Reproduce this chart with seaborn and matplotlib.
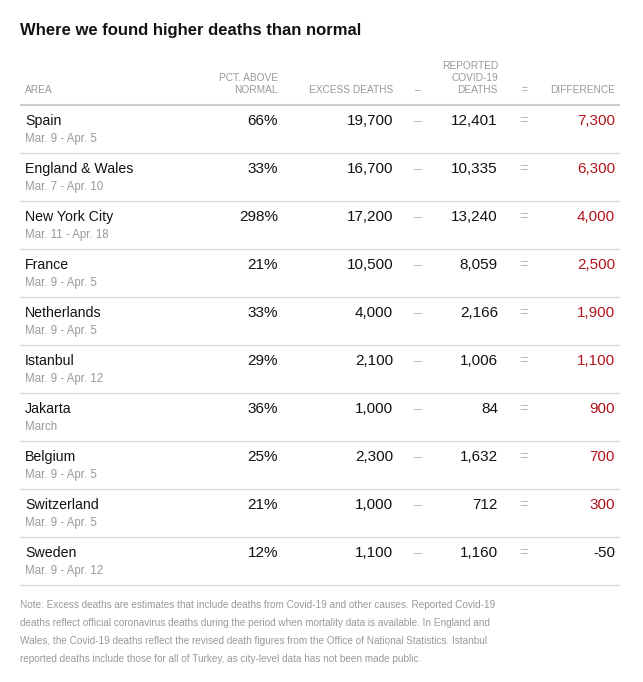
import matplotlib
matplotlib.use("Agg")
import matplotlib.pyplot as plt
import seaborn as sns

title = "Where we found higher deaths than normal"
areas = ["Spain", "England & Wales", "New York City", "France", "Netherlands",
         "Istanbul", "Jakarta", "Belgium", "Switzerland", "Sweden"]
periods = ["Mar. 9 - Apr. 5", "Mar. 7 - Apr. 10", "Mar. 11 - Apr. 18", "Mar. 9 - Apr. 5",
           "Mar. 9 - Apr. 5", "Mar. 9 - Apr. 12", "March", "Mar. 9 - Apr. 5",
           "Mar. 9 - Apr. 5", "Mar. 9 - Apr. 12"]
pct_above = [66, 33, 298, 21, 33, 29, 36, 25, 21, 12]
excess_deaths = [19700, 16700, 17200, 10500, 4000, 2100, 1000, 2300, 1000, 1100]
reported_deaths = [12401, 10335, 13240, 8059, 2166, 1006, 84, 1632, 712, 1160]
difference = [7300, 6300, 4000, 2500, 1900, 1100, 900, 700, 300, -50]
note_lines = [
    "Note: Excess deaths are estimates that include deaths from Covid-19 and other causes. Reported Covid-19",
    "deaths reflect official coronavirus deaths during the period when mortality data is available. In England and",
    "Wales, the Covid-19 deaths reflect the revised death figures from the Office of National Statistics. Istanbul",
    "reported deaths include those for all of Turkey, as city-level data has not been made public.",
]

sns.set_theme(style="white")
FAM = ["Liberation Sans", "DejaVu Sans"]
plt.rcParams["font.family"] = FAM

W, H = 643, 682
fig = plt.figure(figsize=(W / 100, H / 100), dpi=100)
ax = fig.add_axes([0, 0, 1, 1])
ax.set_xlim(0, W)
ax.set_ylim(H, 0)
ax.axis("off")

DARK = "#121212"
GRAY = "#999999"
LIGHT = "#bbbbbb"
RED = "#b3141e"

ax.text(20, 31, title, fontsize=12, fontweight="bold", color=DARK, va="center", ha="left")

# column anchors (x px)
x_area, x_pct, x_exc, x_minus, x_rep, x_eq, x_diff = 25, 278, 393, 418, 498, 524, 615
hs = 7.3
ax.text(x_area, 90, "AREA", fontsize=hs, color=GRAY, va="center", ha="left")
ax.text(x_pct, 78, "PCT. ABOVE", fontsize=hs, color=GRAY, va="center", ha="right")
ax.text(x_pct, 90, "NORMAL", fontsize=hs, color=GRAY, va="center", ha="right")
ax.text(x_exc, 90, "EXCESS DEATHS", fontsize=hs, color=GRAY, va="center", ha="right")
ax.text(x_minus, 90, "–", fontsize=hs, color=GRAY, va="center", ha="center")
ax.text(x_rep, 66, "REPORTED", fontsize=hs, color=GRAY, va="center", ha="right")
ax.text(x_rep, 78, "COVID-19", fontsize=hs, color=GRAY, va="center", ha="right")
ax.text(x_rep, 90, "DEATHS", fontsize=hs, color=GRAY, va="center", ha="right")
ax.text(x_eq, 90, "=", fontsize=hs, color=GRAY, va="center", ha="center")
ax.text(x_diff, 90, "DIFFERENCE", fontsize=hs, color=GRAY, va="center", ha="right")

ax.plot([20, 620], [105, 105], color="#cccccc", lw=1.5, solid_capstyle="butt")

row0, step = 121, 48
fs = 11
for i, area in enumerate(areas):
    y = row0 + step * i
    ax.text(x_area, y, area, fontsize=10.2, color=DARK, va="center", ha="left")
    ax.text(x_area, y + 18, periods[i], fontsize=8.3, color=GRAY, va="center", ha="left")
    ax.text(x_pct, y, f"{pct_above[i]}%", fontsize=fs, color=DARK, va="center", ha="right")
    ax.text(x_exc, y, f"{excess_deaths[i]:,}", fontsize=fs, color=DARK, va="center", ha="right")
    ax.text(x_minus, y, "–", fontsize=fs, color=LIGHT, va="center", ha="center")
    ax.text(x_rep, y, f"{reported_deaths[i]:,}", fontsize=fs, color=DARK, va="center", ha="right")
    ax.text(x_eq, y, "=", fontsize=fs, color=LIGHT, va="center", ha="center")
    d = difference[i]
    ax.text(x_diff, y, f"{d:,}", fontsize=fs, color=RED if d > 0 else DARK,
            va="center", ha="right")
    sep = y + 32
    ax.plot([20, 620], [sep, sep], color="#dddddd", lw=1.0, solid_capstyle="butt")

for j, line in enumerate(note_lines):
    ax.text(20, 605 + 18 * j, line, fontsize=7.2, color=GRAY, va="center", ha="left")

fig.savefig("out.png", dpi=100, facecolor="white")
